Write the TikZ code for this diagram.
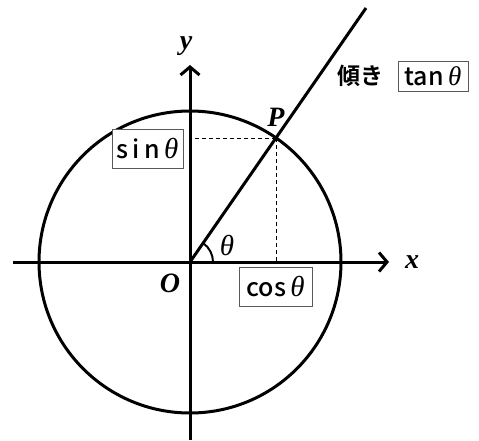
\documentclass[tikz,border=0pt]{standalone}
\usepackage{fontspec}
\usetikzlibrary{arrows.meta,calc}
\newfontfamily\jpfont{Noto Sans CJK JP}[UprightFont={* Medium},BoldFont={* Bold}]
\newfontfamily\serifit{Liberation Serif}
\newcommand{\thsym}{{\serifit\itshape θ}}
\begin{document}
\begin{tikzpicture}[x=1pt,y=-1pt,
  axisline/.style={line width=3pt,-{Straight Barb[length=8pt,width=19pt,line width=3pt]}},
  boldline/.style={line width=3pt},
  guide/.style={line width=0.9pt,dash pattern=on 4pt off 3pt},
  valbox/.style={draw=black!65,line width=1pt,fill=white,inner sep=0pt,
    font=\jpfont\fontsize{25}{25}\selectfont},
  lbl/.style={inner sep=0pt,font=\serifit\bfseries\itshape\fontsize{28}{28}\selectfont}]
\useasboundingbox (0,0) rectangle (479,440);
\coordinate (O) at (190,262);
\coordinate (P) at (276,138);
\coordinate (xl) at (13,262);
\coordinate (xr) at (389,262);
\coordinate (yb) at (190,440);
\coordinate (yt) at (190,65);
\coordinate (tend) at (366,8);
\coordinate (Py) at (190,138);
\coordinate (Px) at (276,262);
% circle and axes
\draw[boldline] (O) circle[radius=151];
\draw[axisline] (xl) -- (xr);
\draw[axisline] (yb) -- (yt);
\draw[boldline] (O) -- (tend);
% guides
\draw[guide] (P) -- (Py);
\draw[guide] (P) -- (Px);
% angle arc
\draw[line width=2pt] ($(O)+(23,0)$) arc[start angle=0,end angle=-55.3,radius=23];
% labels
\node[inner sep=0pt,font=\serifit\itshape\fontsize{29}{29}\selectfont] (th) at (227,245) {θ};
\node[lbl] (Olbl) at (170,283) {O};
\node[lbl] (xlbl) at (412,262) {x};
\node[lbl] (ylbl) at (186,46) {y};
\node[lbl] (Plbl) at (276,117) {P};
\node[valbox,minimum width=71pt,minimum height=39pt] (sinb) at (147.5,148.5) {s\,i\,n\,{\fontsize{29}{29}\selectfont\thsym}};
\node[valbox,minimum width=73pt,minimum height=39pt] (cosb) at (275.5,286.5) {cos\,{\fontsize{29}{29}\selectfont\thsym}};
\node[valbox,minimum width=70pt,minimum height=30pt] (tanb) at (433,76) {tan\,{\fontsize{27}{27}\selectfont\thsym}};
\node[inner sep=0pt,font=\jpfont\bfseries\fontsize{23}{23}\selectfont] (slope) at (360,76) {傾き};
\end{tikzpicture}
\end{document}
